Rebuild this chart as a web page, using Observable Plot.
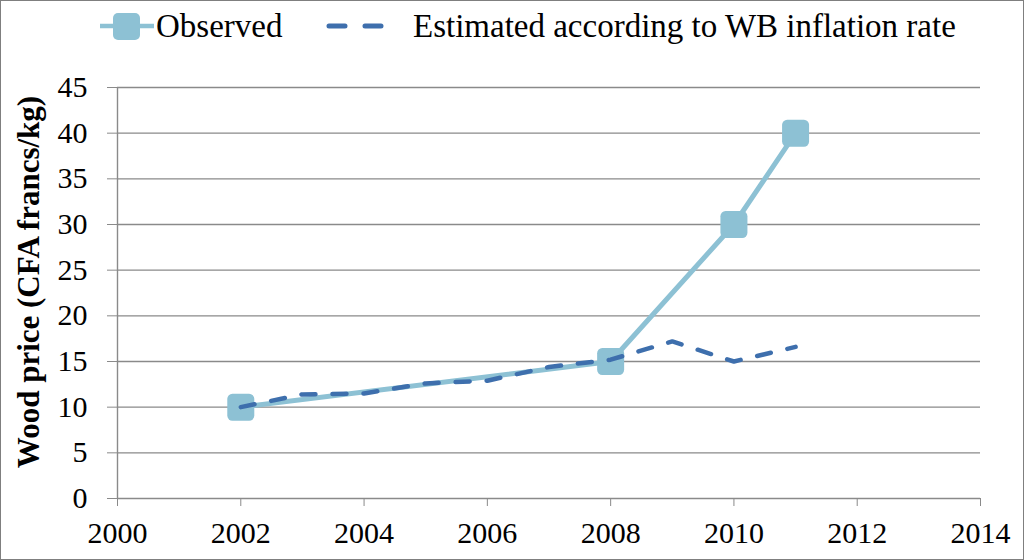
<!DOCTYPE html>
<html>
<head>
<meta charset="utf-8">
<script src="https://cdn.jsdelivr.net/npm/d3@7"></script>
<script src="https://cdn.jsdelivr.net/npm/@observablehq/plot@0.6"></script>
<style>
  html, body { margin: 0; padding: 0; background: #fff; }
  #frame { width: 1022px; height: 558px; border: 1px solid #7f7f7f; overflow: hidden; position: relative; background: #fff; }
  #legend { height: 50px; position: relative; font-family: "Liberation Serif", "Times New Roman", serif; font-size: 33px; color: #000; }
  .item { position: absolute; top: 6px; display: flex; align-items: center; height: 38px; }
  svg.plot text { font-family: "Liberation Serif", "Times New Roman", serif; }
</style>
</head>
<body>
<div id="frame">
  <div id="legend">
    <div class="item" style="left:99px;">
      <svg width="54" height="34"><line x1="0" y1="17" x2="54" y2="17" stroke="#8DC1D4" stroke-width="4.5"/><rect x="13" y="4" width="27" height="27" rx="5" fill="#8DC1D4"/></svg>
      <span style="margin-left:2px;">Observed</span>
    </div>
    <div class="item" style="left:325px;">
      <svg width="62" height="34"><line x1="3" y1="17" x2="59" y2="17" stroke="#3E6FAD" stroke-width="5" stroke-dasharray="16,20" stroke-linecap="round"/></svg>
      <span style="margin-left:25px;">Estimated according to WB inflation rate</span>
    </div>
  </div>
  <div id="chart"></div>
</div>
<script>
const obsYears = [2002, 2008, 2010, 2011];
const obsValues = [10, 15, 30, 40];
const estYears = [2002, 2003, 2004, 2005, 2006, 2007, 2008, 2009, 2010, 2011];
const estValues = [10, 11.4, 11.5, 12.6, 12.9, 14.4, 15.2, 17.2, 15.0, 16.6];
const xTicks = [2000, 2002, 2004, 2006, 2008, 2010, 2012, 2014];
const yTicks = [0, 5, 10, 15, 20, 25, 30, 35, 40, 45];

const observed = obsYears.map((y, i) => ({year: y, value: obsValues[i]}));
const estimated = estYears.map((y, i) => ({year: y, value: estValues[i]}));

const roundedSquare = {
  draw(context, size) {
    const h = Math.sqrt(size / Math.PI);
    const r = h * 0.38;
    context.moveTo(-h + r, -h);
    context.arcTo(h, -h, h, h, r);
    context.arcTo(h, h, -h, h, r);
    context.arcTo(-h, h, -h, -h, r);
    context.arcTo(-h, -h, h, -h, r);
    context.closePath();
  }
};

const chart = Plot.plot({
  width: 1022,
  height: 508,
  marginTop: 36,
  marginBottom: 61,
  marginLeft: 116,
  marginRight: 43,
  className: "plot",
  style: {fontFamily: "Liberation Serif, Times New Roman, serif", color: "#000", background: "#fff"},
  x: {domain: [2000, 2014], ticks: xTicks, tickFormat: d => String(d)},
  y: {domain: [0, 45], ticks: yTicks},
  marks: [
    Plot.ruleY(yTicks.filter(d => d > 0), {stroke: "#8a8a8a", strokeWidth: 1.4}),
    Plot.axisY({ticks: yTicks, tickSize: 10, tickPadding: 20, stroke: "#8a8a8a", fontSize: 30, label: null}),
    Plot.axisX({ticks: xTicks, tickSize: 8, tickPadding: 15, stroke: "#8a8a8a", fontSize: 30, label: null, tickFormat: d => String(d)}),
    Plot.ruleX([2000], {stroke: "#8a8a8a", strokeWidth: 1.4, y1: 0, y2: 45}),
    Plot.ruleY([0], {stroke: "#8a8a8a", strokeWidth: 1.4}),
    Plot.line(observed, {x: "year", y: "value", stroke: "#8DC1D4", strokeWidth: 5}),
    Plot.dot(observed, {x: "year", y: "value", symbol: roundedSquare, r: 13.5, fill: "#8DC1D4", stroke: "none"}),
    Plot.line(estimated, {x: "year", y: "value", stroke: "#3E6FAD", strokeWidth: 4.5, strokeDasharray: "14,17", strokeLinecap: "round"})
  ]
});

// y-axis title
const svg = d3.select(chart);
svg.append("text")
  .attr("transform", "translate(38, 231) rotate(-90)")
  .attr("text-anchor", "middle")
  .attr("font-family", "Liberation Serif, Times New Roman, serif")
  .attr("font-weight", "bold")
  .attr("font-size", 31)
  .attr("fill", "#000")
  .text("Wood price (CFA francs/kg)");

document.getElementById("chart").appendChild(chart);
</script>
</body>
</html>
